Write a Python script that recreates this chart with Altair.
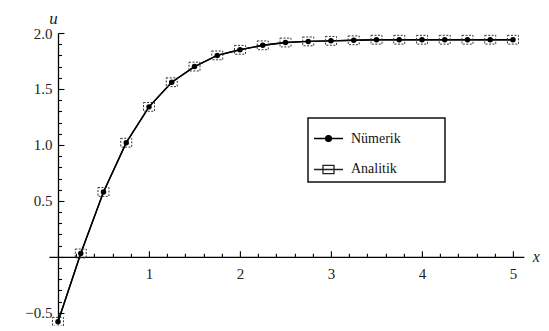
import altair as alt
import pandas as pd

# ---- data ----
x_vals = [0, 0.25, 0.5, 0.75, 1, 1.25, 1.5, 1.75, 2, 2.25, 2.5,
          2.75, 3, 3.25, 3.5, 3.75, 4, 4.25, 4.5, 4.75, 5]
numerik = [-0.58, 0.03, 0.58, 1.02, 1.34, 1.56, 1.70, 1.80, 1.85, 1.89, 1.915,
           1.925, 1.93, 1.935, 1.94, 1.94, 1.94, 1.94, 1.94, 1.94, 1.94]
analitik = [-0.58, 0.03, 0.58, 1.02, 1.34, 1.56, 1.70, 1.80, 1.85, 1.89, 1.915,
            1.925, 1.93, 1.935, 1.94, 1.94, 1.94, 1.94, 1.94, 1.94, 1.94]
series_names = ["Nümerik", "Analitik"]

x_ticks = [round(i * 0.2, 1) for i in range(26)]          # 0 .. 5
y_ticks = [round(-0.5 + i * 0.1, 1) for i in range(26)]   # -0.5 .. 2.0
x_labels = [1, 2, 3, 4, 5]
y_labels = [-0.5, 0.5, 1.0, 1.5, 2.0]

df = pd.concat([
    pd.DataFrame({"x": x_vals, "u": numerik, "series": series_names[0]}),
    pd.DataFrame({"x": x_vals, "u": analitik, "series": series_names[1]}),
], ignore_index=True)

# ---- layout ----
X_MIN, X_MAX = -0.1, 5.12
Y_MIN, Y_MAX = -0.6, 2.0
W, H = 475, 291
x0_px = (0 - X_MIN) / (X_MAX - X_MIN) * W
y0_px = (Y_MAX - 0) / (Y_MAX - Y_MIN) * H
plot_left = 58 - x0_px      # page pixel of the plot's left edge
plot_top = 33

FONT = "Liberation Serif"
xs = alt.Scale(domain=[X_MIN, X_MAX], nice=False, zero=False)
ys = alt.Scale(domain=[Y_MIN, Y_MAX], nice=False, zero=False)

major_x = "abs(datum.value - round(datum.value)) < 0.001"
major_y = "abs(datum.value * 2 - round(datum.value * 2)) < 0.001"

tick_x_axis = alt.Axis(
    orient="top", offset=-y0_px, values=x_ticks, labels=False, grid=False,
    domainColor="black", domainWidth=1.3, tickColor="black", tickWidth=1.1,
    tickSize={"condition": {"test": major_x, "value": 6}, "value": 3.5},
    title="x", titleX=W + 12, titleY=0, titleAngle=0, titleBaseline="middle",
    titleAlign="center", titleFont=FONT, titleFontStyle="italic",
    titleFontWeight="normal", titleFontSize=16, titleColor="#222", titlePadding=0,
)
tick_y_axis = alt.Axis(
    orient="right", offset=x0_px - W, values=y_ticks, labels=False, grid=False,
    domainColor="black", domainWidth=1.3, tickColor="black", tickWidth=1.1,
    tickSize={"condition": {"test": major_y, "value": 6}, "value": 3.5},
    title="u", titleX=-5, titleY=-15, titleAngle=0, titleBaseline="middle",
    titleAlign="center", titleFont=FONT, titleFontStyle="italic",
    titleFontWeight="normal", titleFontSize=17, titleColor="#222", titlePadding=0,
)
label_x_axis = alt.Axis(
    orient="bottom", offset=y0_px - H, values=x_labels, ticks=False, tickSize=0,
    domain=False, grid=False, labelPadding=10, format="d", labelFont=FONT,
    labelFontSize=15, labelColor="#222", title=None,
)
label_y_axis = alt.Axis(
    orient="left", offset=-x0_px, values=y_labels, ticks=False, tickSize=0,
    domain=False, grid=False, labelPadding=6, format=".1f", labelFont=FONT,
    labelFontSize=15, labelColor="#222", title=None,
)

rect_path = "M-1,-0.8H1V0.8H-1Z"
leg_num = "M-1,0H1M-0.2,0A0.2,0.2,0,1,0,0.2,0A0.2,0.2,0,1,0,-0.2,0Z"
leg_ana = "M-1,0H1M-0.38,-0.28H0.38V0.28H-0.38Z"

base = alt.Chart(df)

lines = base.mark_line(color="black", strokeWidth=1.4).encode(
    x=alt.X("x:Q", scale=xs, axis=tick_x_axis),
    y=alt.Y("u:Q", scale=ys, axis=tick_y_axis),
    detail="series:N",
)
ana_pts = base.transform_filter(alt.datum.series == series_names[1]).mark_point(
    shape=rect_path, size=121, filled=False, stroke="#333", strokeWidth=1,
    strokeDash=[2, 1.5], opacity=1,
).encode(
    x=alt.X("x:Q", scale=xs, axis=None),
    y=alt.Y("u:Q", scale=ys, axis=None),
)
num_pts = base.transform_filter(alt.datum.series == series_names[0]).mark_point(
    shape="circle", size=30, filled=True, color="black", opacity=1,
).encode(
    x=alt.X("x:Q", scale=xs, axis=None),
    y=alt.Y("u:Q", scale=ys, axis=None),
)

# trailing non-breaking spaces widen the legend box; the zero-width space
# at the end keeps them from being trimmed
pad = "\u00a0" * 11 + "\u200b"
leg = alt.Legend(
    title=None, orient="none", legendX=308 - plot_left, legendY=118 - plot_top,
    symbolSize=841, symbolOpacity=1, symbolStrokeColor="black", symbolStrokeWidth=1.3,
    labelFont=FONT, labelFontSize=14, labelColor="#111", labelOffset=7,
    rowPadding=8, padding=5, labelExpr="datum.label + '" + pad + "'",
)
legend_layer = base.mark_point(opacity=0, color="black").encode(
    x=alt.X("x:Q", scale=xs, axis=label_x_axis),
    y=alt.Y("u:Q", scale=ys, axis=label_y_axis),
    shape=alt.Shape("series:N", scale=alt.Scale(domain=series_names, range=[leg_num, leg_ana]), legend=leg),
    fill=alt.Fill("series:N", scale=alt.Scale(domain=series_names, range=["black", "transparent"]), legend=leg),
    stroke=alt.Stroke("series:N", scale=alt.Scale(domain=series_names, range=["black", "#222"]), legend=leg),
)

chart = alt.layer(lines, ana_pts, num_pts, legend_layer).resolve_axis(
    x="independent", y="independent"
).properties(
    width=W, height=H, autosize="none",
    padding={"left": plot_left - 8, "top": plot_top - 8, "right": 17, "bottom": 2},
    background="white",
).configure_view(stroke=None).configure_legend(
    strokeColor="#111", strokeWidth=1.5, fillColor="white",
)

chart.save("out.html", embed_options={"renderer": "svg", "actions": False})
